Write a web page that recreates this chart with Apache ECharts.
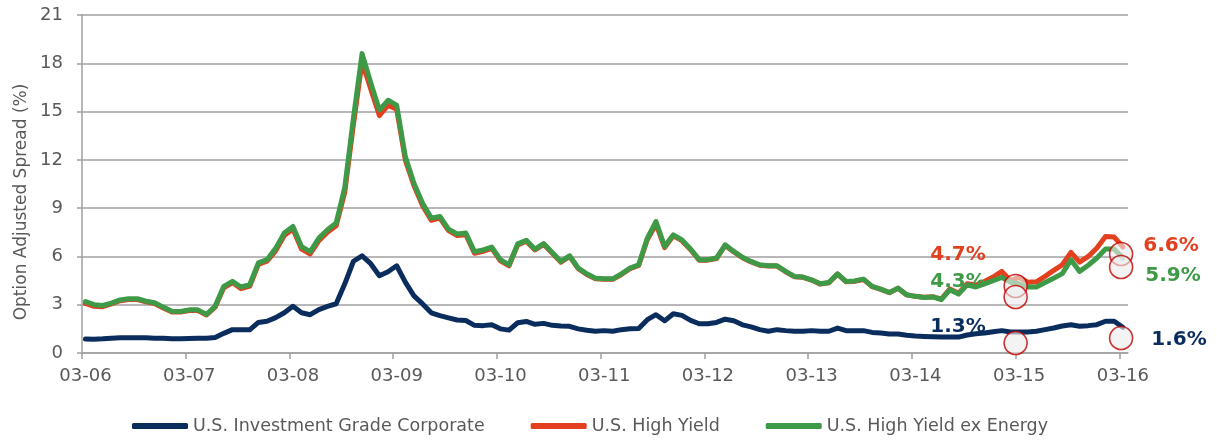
<!DOCTYPE html>
<html>
<head>
<meta charset="utf-8">
<script src="https://cdn.jsdelivr.net/npm/echarts@6/dist/echarts.min.js"></script>
<style>
  html, body { margin: 0; padding: 0; background: #ffffff; }
  #chart { width: 1217px; height: 444px; }
</style>
</head>
<body>
<div id="chart"></div>
<script>
// Monthly option-adjusted spreads (%), March 2006 through March 2016
const yearTicks = ['03-06', '03-07', '03-08', '03-09', '03-10', '03-11', '03-12', '03-13', '03-14', '03-15', '03-16'];

const investmentGrade = [
  0.87, 0.86, 0.88, 0.92, 0.95, 0.95, 0.95, 0.94, 0.92, 0.91, 0.89, 0.88,
  0.90, 0.92, 0.92, 0.96, 1.22, 1.45, 1.45, 1.44, 1.90, 1.97, 2.20, 2.50,
  2.90, 2.50, 2.38, 2.70, 2.90, 3.06, 4.30, 5.70, 6.04, 5.55, 4.80, 5.05,
  5.42, 4.40, 3.55, 3.05, 2.50, 2.32, 2.18, 2.05, 2.02, 1.72, 1.70, 1.76,
  1.50, 1.42, 1.88, 1.96, 1.78, 1.84, 1.72, 1.68, 1.66, 1.50, 1.41, 1.35,
  1.39, 1.35, 1.45, 1.51, 1.52, 2.07, 2.38, 2.00, 2.44, 2.34, 2.03, 1.82,
  1.82, 1.90, 2.10, 2.00, 1.75, 1.62, 1.45, 1.35, 1.45, 1.39, 1.35, 1.35,
  1.39, 1.35, 1.35, 1.55, 1.39, 1.39, 1.39, 1.28, 1.24, 1.18, 1.18, 1.10,
  1.05, 1.03, 1.01, 0.99, 0.99, 0.99, 1.12, 1.20, 1.24, 1.32, 1.39, 1.30,
  1.30, 1.30, 1.35, 1.45, 1.55, 1.68, 1.76, 1.66, 1.70, 1.76, 1.97, 1.97,
  1.60
];

const highYield = [
  3.08, 2.90, 2.88, 3.05, 3.25, 3.32, 3.32, 3.18, 3.08, 2.80, 2.55, 2.55,
  2.64, 2.64, 2.36, 2.85, 4.05, 4.38, 4.00, 4.15, 5.50, 5.70, 6.35, 7.30,
  7.70, 6.45, 6.15, 6.98, 7.50, 7.90, 10.00, 14.20, 18.10, 16.40, 14.75, 15.40,
  15.15, 12.00, 10.40, 9.15, 8.25, 8.38, 7.60, 7.30, 7.35, 6.20, 6.32, 6.50,
  5.72, 5.42, 6.72, 6.95, 6.40, 6.75, 6.20, 5.64, 6.00, 5.24, 4.88, 4.62,
  4.58, 4.58, 4.88, 5.24, 5.44, 7.05, 8.00, 6.55, 7.28, 6.98, 6.42, 5.76,
  5.77, 5.87, 6.68, 6.28, 5.92, 5.66, 5.45, 5.40, 5.40, 5.05, 4.74, 4.70,
  4.53, 4.28, 4.36, 4.90, 4.42, 4.46, 4.57, 4.12, 3.95, 3.75, 4.02, 3.61,
  3.52, 3.46, 3.50, 3.35, 3.98, 3.72, 4.30, 4.22, 4.44, 4.72, 5.07, 4.50,
  4.70, 4.40, 4.42, 4.76, 5.13, 5.48, 6.25, 5.65, 6.00, 6.52, 7.24, 7.20,
  6.60
];

const highYieldExEnergy = [
  3.20, 3.00, 2.95, 3.10, 3.30, 3.37, 3.37, 3.22, 3.12, 2.85, 2.60, 2.58,
  2.68, 2.68, 2.40, 2.90, 4.14, 4.45, 4.10, 4.24, 5.60, 5.80, 6.50, 7.45,
  7.86, 6.60, 6.30, 7.14, 7.66, 8.07, 10.30, 14.60, 18.60, 16.80, 15.10, 15.70,
  15.40, 12.20, 10.55, 9.30, 8.38, 8.48, 7.70, 7.40, 7.45, 6.30, 6.40, 6.58,
  5.80, 5.48, 6.78, 7.00, 6.45, 6.80, 6.25, 5.69, 6.04, 5.28, 4.92, 4.65,
  4.61, 4.61, 4.92, 5.28, 5.48, 7.14, 8.17, 6.62, 7.34, 7.03, 6.46, 5.80,
  5.80, 5.90, 6.72, 6.31, 5.95, 5.69, 5.48, 5.42, 5.42, 5.07, 4.76, 4.72,
  4.55, 4.30, 4.38, 4.92, 4.44, 4.48, 4.59, 4.14, 3.97, 3.76, 4.03, 3.62,
  3.52, 3.45, 3.48, 3.31, 3.93, 3.66, 4.24, 4.10, 4.30, 4.50, 4.70, 4.40,
  4.30, 4.10, 4.10, 4.38, 4.65, 4.93, 5.79, 5.07, 5.45, 5.90, 6.46, 6.46,
  5.90
];

// Highlight rings near the March 2015 and March 2016 readings: [month, spread]
const highlightRings = [
  [108, 4.16], [108, 3.48], [108, 0.62],
  [120.2, 6.15], [120.2, 5.34], [120.2, 0.93]
];

const seriesNames = ['U.S. Investment Grade Corporate', 'U.S. High Yield', 'U.S. High Yield ex Energy'];
const seriesColors = ['#0b2d5e', '#e2401f', '#3f9a47'];
const yAxisTitle = 'Option Adjusted Spread (%)';

// Month index of each yearly tick and of the two annotated dates
const monthsPerYear = 12;
const annotatedMonths = [108, 120];

const toPoints = arr => arr.map((v, i) => [i + 0.4, v]);
const tickValues = yearTicks.map((_, k) => k * monthsPerYear);
const pct = v => v.toFixed(1) + '%';

const chart = echarts.init(document.getElementById('chart'), null, { renderer: 'canvas' });

const axisGray = '#a0a0a0';
const textGray = '#595959';
const baseFont = 'DejaVu Sans';

// Annotation text, read straight from the series at the annotated months
const annotations = [
  { text: pct(highYield[annotatedMonths[0]]), color: seriesColors[1], x: 958, y: 255 },
  { text: pct(highYieldExEnergy[annotatedMonths[0]]), color: seriesColors[2], x: 958, y: 282 },
  { text: pct(investmentGrade[annotatedMonths[0]]), color: seriesColors[0], x: 958, y: 327 },
  { text: pct(highYield[annotatedMonths[1]]), color: seriesColors[1], x: 1171, y: 246 },
  { text: pct(highYieldExEnergy[annotatedMonths[1]]), color: seriesColors[2], x: 1173, y: 276 },
  { text: pct(investmentGrade[annotatedMonths[1]]), color: seriesColors[0], x: 1179, y: 340 }
];

const lineSeries = (name, data, color) => ({
  name: name,
  type: 'line',
  data: toPoints(data),
  showSymbol: false,
  symbol: 'none',
  smooth: false,
  lineStyle: { color: color, width: 5, join: 'round', cap: 'round' },
  itemStyle: { color: color },
  emphasis: { disabled: true },
  animation: false
});

const textElements = annotations.map(a => ({
  type: 'text',
  x: a.x,
  y: a.y,
  z: 10,
  style: {
    text: a.text,
    fill: a.color,
    font: 'bold 20px "DejaVu Sans"',
    textAlign: 'center',
    textVerticalAlign: 'middle'
  }
}));

// Vertical axis title
textElements.push({
  type: 'text',
  x: 22,
  y: 202,
  rotation: Math.PI / 2,
  style: {
    text: yAxisTitle,
    fill: textGray,
    font: '17px "DejaVu Sans"',
    textAlign: 'center',
    textVerticalAlign: 'middle'
  }
});

chart.setOption({
  animation: false,
  backgroundColor: '#ffffff',
  grid: { left: 82, right: 89, top: 15, bottom: 91, containLabel: false },
  legend: {
    data: seriesNames,
    left: 127,
    bottom: 4,
    itemWidth: 56,
    itemHeight: 6,
    itemGap: 46,
    icon: 'roundRect',
    textStyle: { color: textGray, fontSize: 17.5, fontFamily: baseFont },
    selectedMode: false
  },
  xAxis: {
    type: 'value',
    min: 0,
    max: 121,
    interval: monthsPerYear,
    axisLine: { show: true, lineStyle: { color: axisGray, width: 1.5 } },
    axisTick: { show: true, length: 6, customValues: tickValues, lineStyle: { color: axisGray, width: 1.5 } },
    axisLabel: {
      customValues: tickValues,
      formatter: v => yearTicks[Math.round(v / monthsPerYear)] || '',
      color: textGray, fontSize: 18, fontFamily: baseFont, margin: 14,
      padding: [0, 0, 0, 7]
    },
    splitLine: { show: false }
  },
  yAxis: {
    type: 'value',
    min: 0,
    max: 21,
    interval: 3,
    axisLine: { show: true, lineStyle: { color: axisGray, width: 1.5 } },
    axisTick: { show: true, length: 5, lineStyle: { color: axisGray, width: 1.5 } },
    axisLabel: { color: textGray, fontSize: 18, fontFamily: baseFont, margin: 19 },
    splitLine: { show: true, lineStyle: { color: axisGray, width: 1.5 } }
  },
  series: [
    lineSeries(seriesNames[0], investmentGrade, seriesColors[0]),
    lineSeries(seriesNames[1], highYield, seriesColors[1]),
    lineSeries(seriesNames[2], highYieldExEnergy, seriesColors[2]),
    {
      name: 'rings',
      type: 'scatter',
      data: highlightRings,
      symbol: 'circle',
      symbolSize: 23,
      z: 5,
      itemStyle: { color: 'rgba(236,236,236,0.78)', borderColor: '#c00000', borderWidth: 1.6 },
      emphasis: { disabled: true },
      silent: true
    }
  ],
  graphic: textElements
});
</script>
</body>
</html>
